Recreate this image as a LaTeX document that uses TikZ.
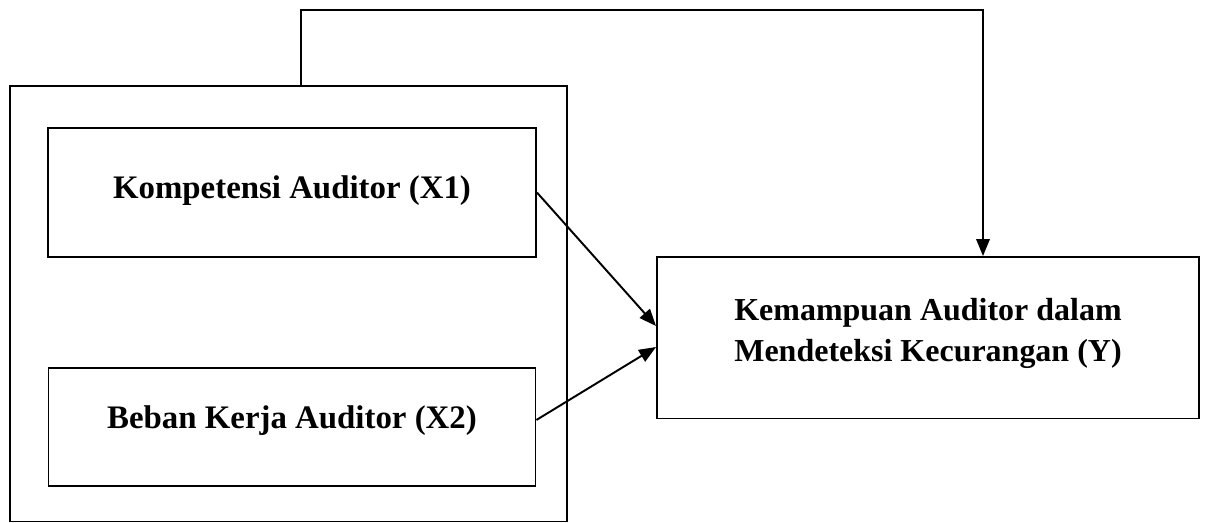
\documentclass[tikz,border=0pt]{standalone}
\usepackage{fontspec}
\setmainfont{Liberation Serif}
\usepackage{tikz}
\usetikzlibrary{
  arrows.meta,
  positioning
}

\begin{document}
\begin{tikzpicture}[
  line width=1.1pt,
  every node/.style={font=\fontsize{18.7}{23.6}\selectfont\bfseries}
]
  \useasboundingbox (0,0) rectangle (24.12,-10.44);

  % Outer frame around both X variables
  \node[draw, minimum width=11.14cm, minimum height=8.71cm]
    (frame) at (5.77,-6.075) {};

  % X1 box
  \node[draw, minimum width=9.76cm, minimum height=2.58cm, text depth=0.2cm]
    (kompetensi) at (5.84,-3.85) {Kompetensi Auditor (X1)};

  % X2 box
  \node[draw, minimum width=9.74cm, minimum height=2.36cm, text depth=0.4cm,
    below=2.18cm of kompetensi] (beban) {Beban Kerja Auditor (X2)};

  % Y box
  \node[draw, minimum width=10.84cm, minimum height=3.23cm, align=center, text depth=0.32cm,
    font=\fontsize{18.2}{23.6}\selectfont\bfseries]
    (kemampuan) at (18.56,-6.755) {Kemampuan Auditor dalam\\Mendeteksi Kecurangan (Y)};

  % Arrows
  \draw[-{Triangle[length=0.34cm, width=0.27cm]}] (kompetensi.east)
    -- ([yshift=0.235cm]kemampuan.west);
  \draw[-{Triangle[length=0.34cm, width=0.27cm]}] ([yshift=0.14cm]beban.east)
    -- ([yshift=-0.185cm]kemampuan.west);
  \draw[-{Triangle[length=0.34cm, width=0.27cm]}] ([xshift=0.25cm]frame.north)
    -- ++(0,1.5) -| ([xshift=1.1cm]kemampuan.north);
\end{tikzpicture}
\end{document}
